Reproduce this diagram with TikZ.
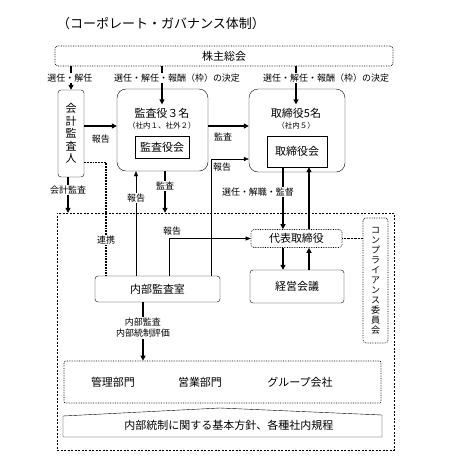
\documentclass[tikz,border=0pt]{standalone}
\usepackage{fontspec}
\setmainfont{Noto Sans CJK JP}
\usetikzlibrary{positioning,arrows.meta}

\begin{document}
\begin{tikzpicture}[x=1pt,y=-1pt,
  fbox/.style={font=\fontsize{11}{12.5}\selectfont},
  box/.style={draw,thin,rounded corners=3pt,fbox},
  dbox/.style={box,line width=0.7pt,densely dotted},
  bigbox/.style={draw,thin,rounded corners=9pt},
  lab/.style={font=\fontsize{9}{11}\selectfont,inner sep=1pt},
  sml/.style={font=\fontsize{7.5}{9}\selectfont},
  thk/.style={line width=1.5pt,-{Triangle[length=5pt,width=5pt]}},
  thn/.style={thin,-{Triangle[length=5pt,width=4pt]}}]
\useasboundingbox (0,0) rectangle (453,467);

\node[font=\fontsize{13}{15}\selectfont] (title) at (161,24) {（コーポレート・ガバナンス体制）};

% boxes
\node[dbox,minimum width=338pt,minimum height=20pt] (soukai) at (224,56) {株主総会};
\node[box,align=center,minimum width=26pt,minimum height=87pt,inner sep=1pt] (kaikei) at (71,133.5) {会\\計\\監\\査\\人};

\node[bigbox,minimum width=91pt,minimum height=82pt] (kansa) at (162.5,130) {};
\node[fbox] (kansa3) at (162,113) {監査役３名};
\node[sml] (kansain) at (162,126) {（社内１、社外２）};
\node[draw,thin,fbox,minimum width=54pt,minimum height=22pt] (kansakai) at (162,147) {監査役会};

\node[bigbox,minimum width=96pt,minimum height=83pt] (tori) at (297,130.5) {};
\node[fbox] (tori5) at (296,113) {取締役5名};
\node[sml] (toriin) at (296,126) {（社内５）};
\node[draw,thin,fbox,minimum width=60pt,minimum height=31pt] (torikai) at (297,151.5) {取締役会};

\node[draw,dash pattern=on 2pt off 1.5pt,minimum width=337pt,minimum height=237pt] (frame) at (225.5,331.5) {};

\node[dbox,minimum width=91pt,minimum height=18pt] (daihyo) at (296.5,238.5) {代表取締役};
\node[box,minimum width=94pt,minimum height=33pt] (keiei) at (297,286.5) {経営会議};
\node[dbox,align=center,minimum width=25pt,minimum height=125pt,inner sep=1pt,font=\fontsize{9}{10}\selectfont] (comp) at (375.5,280.5) {コ\\ン\\プ\\ラ\\イ\\ア\\ン\\ス\\委\\員\\会};
\node[box,minimum width=125pt,minimum height=26pt] (naibu) at (157.5,289) {内部監査室};

\node[draw,line width=0.7pt,densely dotted,rounded corners=2pt,minimum width=317pt,minimum height=42pt] (bumon) at (222.5,382) {};
\node[fbox] (kanri) at (113,382) {管理部門};
\node[fbox] (eigyo) at (200,382) {営業部門};
\node[fbox] (group) at (300,382) {グループ会社};

\draw[thin] (63,416) -- (220,408) -- (382,415) -- (382,437) -- (63,437) -- cycle;
\node[fbox] (kihon) at (229,425) {内部統制に関する基本方針、各種社内規程};

% bends and label points
\coordinate (kk) at (68,190);
\coordinate (ks) at (165,186);
\coordinate (hk) at (136,198);
\coordinate (ht) at (211,159);
\coordinate (hd) at (169,238);
\coordinate (rk) at (106,240);
\coordinate (dnx) at (283,192);
\coordinate (upx) at (309,192);
\coordinate (nh) at (143,328);

% from soukai
\draw[thk] (soukai.south -| kaikei) -- (kaikei.north);
\draw[thk] (soukai.south -| kansa3) -- (kansa3.north);
\draw[thk] (soukai.south -| tori5) -- (tori5.north);
\node[lab,fill=white] at (70,78) {選任・解任};
\node[lab,fill=white] at (177,78) {選任・解任・報酬（枠）の決定};
\node[lab,fill=white] at (326,78) {選任・解任・報酬（枠）の決定};

% kaikei / kansa / tori
\draw[thk] (kaikei.east |- kansain) -- (kansa.west |- kansain);
\node[lab] at (101,139) {報告};
\draw[thk] (kansa.east |- kansain) -- (tori.west |- kansain);
\node[lab] at (223,137) {監査};

\draw[thk] (kaikei.south -| kk) -- (frame.north -| kk);
\node[lab,fill=white] at (kk) {会計監査};
\draw[thk] (kansa.south -| ks) -- (frame.north -| ks);
\node[lab,fill=white] at (ks) {監査};
\draw[line width=1.8pt,densely dotted] ([yshift=-29pt]kaikei.east) -| (naibu.north -| rk);
\node[lab,fill=white] at (rk) {連携};

% naibu reports
\draw[thn] (naibu.north -| hk) -- (kansa.south -| hk);
\node[lab,fill=white] at (hk) {報告};
\draw[thn] (naibu.north -| ht) |- (tori.west |- ht);
\node[lab] at (222,167) {報告};
\draw[thn] (naibu.north -| hd) |- (daihyo.west);
\node[lab] at (172,231) {報告};

% tori / daihyo / keiei
\draw[thk] (torikai.south -| dnx) -- (daihyo.north -| dnx);
\draw[thk] (daihyo.north -| upx) -- (torikai.south -| upx);
\node[lab,fill=white] at (258,192) {選任・解職・監督};
\draw[thk] (daihyo.south -| dnx) -- (keiei.north -| dnx);
\draw[thk] (keiei.north -| upx) -- (daihyo.south -| upx);
\draw[thin,densely dotted] (daihyo.east) -- (comp.west |- daihyo.east);

% naibu to bumon
\draw[thk] (naibu.south -| nh) -- (bumon.north -| nh);
\node[lab,fill=white,align=center] at (nh) {内部監査\\内部統制評価};
\end{tikzpicture}
\end{document}
